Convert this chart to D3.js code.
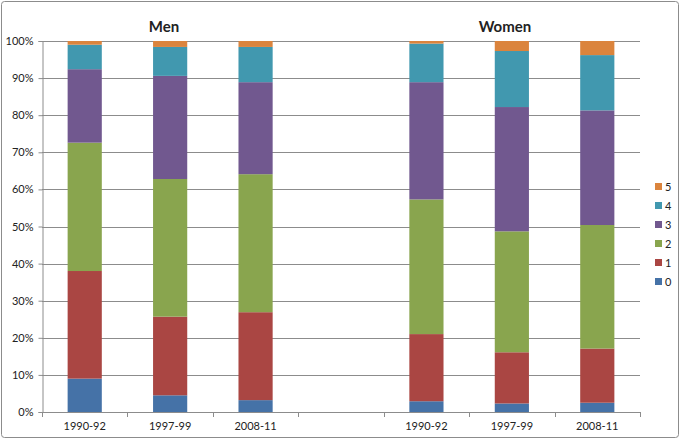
<!DOCTYPE html>
<html>
<head>
<meta charset="utf-8">
<script src="https://cdn.jsdelivr.net/npm/d3@7"></script>
<style>
  body { margin: 0; background: #fff; }
  text { font-family: Lato, "Open Sans", sans-serif; fill: #222; }
</style>
</head>
<body>
<div id="viz"></div>
<script>
// dimensions of the svg
const width = 680
const height = 440
const plot = {left: 42, right: 640, top: 41, bottom: 412}

// data (percent of each bar)
const series = ["0", "1", "2", "3", "4", "5"];
const periods = ["1990-92", "1997-99", "2008-11"];
const groups = ["Men", "Women"];
const menValues = [
  [9.0, 29.0, 34.6, 19.8, 6.6, 1.0],
  [4.5, 21.2, 37.1, 27.8, 7.8, 1.6],
  [3.2, 23.7, 37.2, 24.8, 9.5, 1.6]
];
const womenValues = [
  [2.9, 18.1, 36.3, 31.6, 10.4, 0.7],
  [2.3, 13.8, 32.6, 33.5, 15.1, 2.7],
  [2.5, 14.6, 33.3, 30.9, 14.9, 3.8]
];
const yTicks = [0, 0.1, 0.2, 0.3, 0.4, 0.5, 0.6, 0.7, 0.8, 0.9, 1];
const colors = ["#4572A7", "#AA4643", "#89A54E", "#71588F", "#4198AF", "#DB843D"];

// slots along x: men periods, an empty slot, women periods
const slots = periods.map((p, i) => ({key: "m" + i, label: p, values: menValues[i]}))
  .concat([{key: "gap", label: "", values: null}])
  .concat(periods.map((p, i) => ({key: "w" + i, label: p, values: womenValues[i]})));

const rows = slots.filter(d => d.values).map(d => {
  const r = {key: d.key};
  series.forEach((s, j) => r[s] = d.values[j]);
  return r;
});

const stacked = d3.stack().keys(series).offset(d3.stackOffsetExpand)(rows);

const svg = d3.select("#viz").append("svg")
  .attr("width", width)
  .attr("height", height);

// chart border
svg.append("rect")
  .attr("x", 1.5).attr("y", 1.5)
  .attr("width", width - 3).attr("height", height - 4)
  .attr("rx", 3)
  .attr("fill", "#fff")
  .attr("stroke", "#8c8c8c");

const x = d3.scaleBand().domain(slots.map(d => d.key)).range([plot.left, plot.right]).padding(0);
const y = d3.scaleLinear().domain([0, 1]).range([plot.bottom, plot.top]);
const barW = x.bandwidth() / 2.5;

// gridlines
svg.append("g")
  .selectAll("line")
  .data(yTicks.slice(1))
  .enter()
  .append("line")
  .attr("x1", plot.left).attr("x2", plot.right)
  .attr("y1", d => Math.round(y(d)) + 0.5).attr("y2", d => Math.round(y(d)) + 0.5)
  .attr("stroke", "#8c8c8c");

// y axis
const yAxis = d3.axisLeft(y).tickValues(yTicks).tickFormat(d3.format(".0%")).tickSize(4).tickPadding(5);
svg.append("g")
  .attr("transform", "translate(" + (plot.left + 0.5) + ",0)")
  .call(yAxis)
  .call(g => g.selectAll("path, line").attr("stroke", "#8c8c8c"))
  .call(g => g.selectAll("text").style("font-size", "11px").style("fill", "#222"));

// bars
svg.append("g")
  .selectAll("g")
  .data(stacked)
  .enter()
  .append("g")
  .attr("fill", (d, i) => colors[i])
  .selectAll("rect")
  .data(d => d)
  .enter()
  .append("rect")
  .attr("x", d => x(d.data.key) + (x.bandwidth() - barW) / 2)
  .attr("width", barW)
  .attr("y", d => y(d[1]))
  .attr("height", d => y(d[0]) - y(d[1]));

// x axis with ticks at slot boundaries
const xb = svg.append("g");
xb.append("line")
  .attr("x1", plot.left).attr("x2", plot.right)
  .attr("y1", plot.bottom + 0.5).attr("y2", plot.bottom + 0.5)
  .attr("stroke", "#8c8c8c");
xb.selectAll(".tick")
  .data(slots.map(d => x(d.key)).concat([plot.right]))
  .enter()
  .append("line")
  .attr("x1", d => Math.round(d) + 0.5).attr("x2", d => Math.round(d) + 0.5)
  .attr("y1", plot.bottom).attr("y2", plot.bottom + 5)
  .attr("stroke", "#8c8c8c");
xb.selectAll("text")
  .data(slots)
  .enter()
  .append("text")
  .attr("x", d => x(d.key) + x.bandwidth() / 2)
  .attr("y", plot.bottom + 18)
  .attr("text-anchor", "middle")
  .style("font-size", "11px")
  .text(d => d.label);

// group titles
svg.selectAll(".title")
  .data(groups)
  .enter()
  .append("text")
  .attr("class", "title")
  .attr("x", (d, i) => i === 0 ? 164 : 505)
  .attr("y", 32)
  .attr("text-anchor", "middle")
  .style("font-size", "15px")
  .style("font-weight", "bold")
  .text(d => d);

// legend, reversed order (5 on top)
const legend = svg.append("g")
  .selectAll("g")
  .data(series.slice().reverse())
  .enter()
  .append("g")
  .attr("transform", (d, i) => "translate(655," + (187 + i * 19) + ")");
legend.append("rect")
  .attr("x", 0).attr("y", -4)
  .attr("width", 7).attr("height", 7)
  .attr("fill", d => colors[series.indexOf(d)]);
legend.append("text")
  .attr("x", 10).attr("y", 4)
  .style("font-size", "11px")
  .text(d => d);
</script>
</body>
</html>
